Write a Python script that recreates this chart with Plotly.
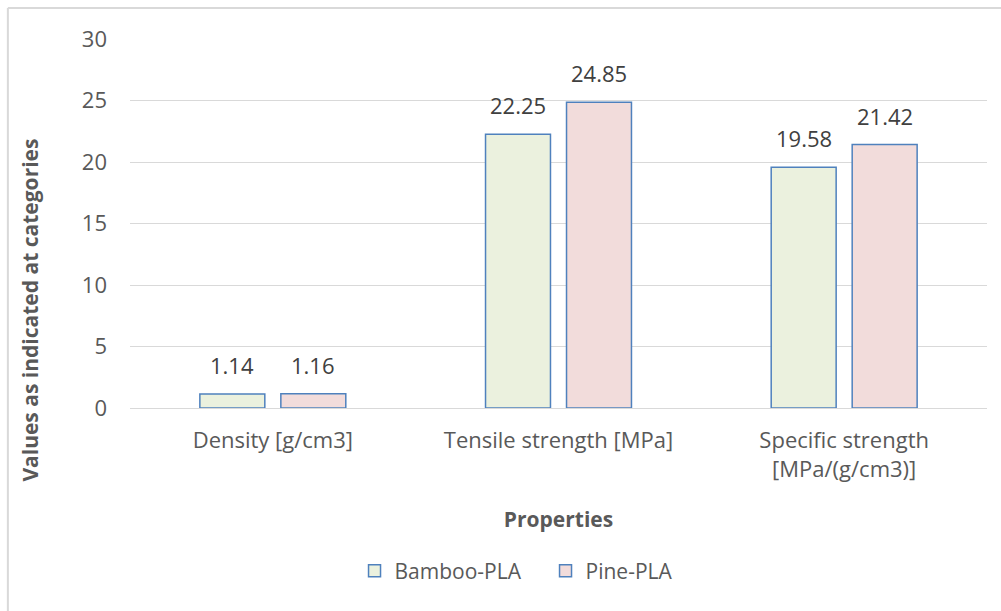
import plotly.graph_objects as go

categories = ["Density [g/cm3]", "Tensile strength [MPa]", "Specific strength<br>[MPa/(g/cm3)]"]
bamboo_pla = [1.14, 22.25, 19.58]
pine_pla = [1.16, 24.85, 21.42]
y_ticks = [0, 5, 10, 15, 20, 25, 30]

FONT = "Open Sans"
GRAY = "#595959"
LABEL = "#404040"
EDGE = "#4F81BD"

W, H = 1001, 611
M_L, M_R, M_T, M_B = 130, 14, 39, 203
BARGAP, GROUPGAP = 0.433, 0.198

fig = go.Figure()
series = [("Bamboo-PLA", bamboo_pla, "#EBF1DE"), ("Pine-PLA", pine_pla, "#F2DCDB")]
for name, vals, fill in series:
    fig.add_trace(go.Bar(
        name=name, x=categories, y=vals,
        marker=dict(color=fill, line=dict(color=EDGE, width=1.5)),
    ))

# value labels above each bar, shifted sideways to the centre of its bar slot
cat_px = (W - M_L - M_R) / len(categories)
slot_px = cat_px * (1 - BARGAP) / len(series)
for i, (name, vals, _) in enumerate(series):
    dx = (i - (len(series) - 1) / 2) * slot_px
    for cat, v in zip(categories, vals):
        fig.add_annotation(
            x=cat, y=v, text=f"{v:.2f}", showarrow=False,
            xshift=dx, yshift=12, yanchor="bottom",
            font=dict(size=22, color=LABEL, family=FONT),
        )

# vertical axis title
fig.add_annotation(
    xref="paper", yref="paper", x=-0.117, y=0.266, textangle=-90,
    text="<b>Values as indicated at categories</b>", showarrow=False,
    xanchor="center", yanchor="middle", font=dict(size=21, color=GRAY, family=FONT),
)

fig.update_layout(
    width=W, height=H,
    margin=dict(l=M_L, r=M_R, t=M_T, b=M_B),
    paper_bgcolor="white", plot_bgcolor="white",
    font=dict(family=FONT, color=GRAY, size=22),
    barmode="group", bargap=BARGAP, bargroupgap=GROUPGAP,
    showlegend=True,
    legend=dict(orientation="h", x=0.262, xanchor="left", y=-0.442, yanchor="middle",
                font=dict(size=21, color=GRAY), traceorder="normal",
                entrywidth=146, entrywidthmode="pixels"),
    xaxis=dict(
        showgrid=False, showline=True, linecolor="#d9d9d9", linewidth=1,
        ticks="", tickfont=dict(size=22, color=GRAY), ticklabelstandoff=13,
        title=dict(text="<b>Properties</b>", font=dict(size=21, color=GRAY), standoff=30),
    ),
    yaxis=dict(
        range=[0, 30], tickvals=y_ticks, showgrid=True, gridcolor="#d9d9d9", gridwidth=1,
        zeroline=False, showline=False, ticks="", tickfont=dict(size=22, color=GRAY),
        ticklabelstandoff=22,
    ),
    shapes=[
        dict(type="line", xref="paper", yref="paper", x0=-0.1425, x1=-0.1425, y0=1.084, y1=-0.6,
             line=dict(color="#d9d9d9", width=2)),
        dict(type="line", xref="paper", yref="paper", x0=-0.1425, x1=1.05, y0=1.084, y1=1.084,
             line=dict(color="#d9d9d9", width=2)),
    ],
)

fig.write_html("out.html")
